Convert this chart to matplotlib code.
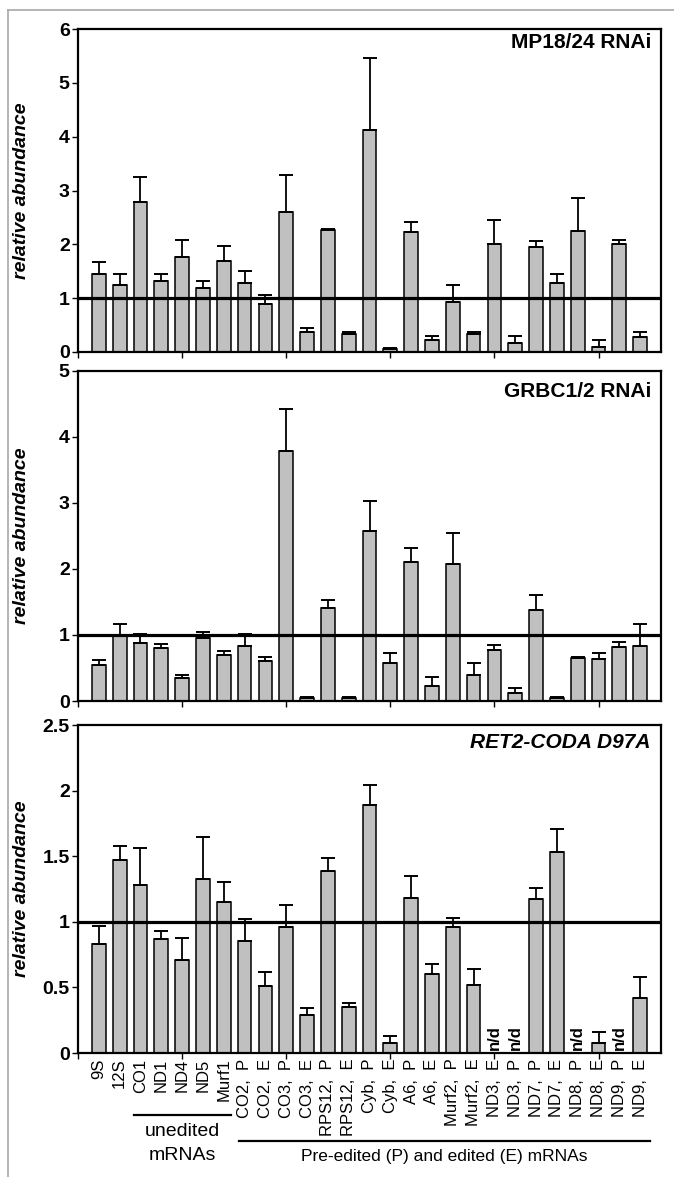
import numpy as np
import matplotlib
matplotlib.use('Agg')
import matplotlib.pyplot as plt
import matplotlib.transforms as mtransforms
from matplotlib.lines import Line2D
from matplotlib.ticker import FuncFormatter

plt.rcParams['font.family'] = ['Liberation Sans', 'DejaVu Sans']

# categories (bottom panel tick labels)
labels = ['9S', '12S', 'CO1', 'ND1', 'ND4', 'ND5', 'Murf1',
          'CO2,  P', 'CO2,  E', 'CO3,  P', 'CO3,  E', 'RPS12,  P', 'RPS12,  E',
          'Cyb,  P', 'Cyb,  E', 'A6,  P', 'A6,  E', 'Murf2,  P', 'Murf2,  E',
          'ND3,  E', 'ND3,  P', 'ND7,  P', 'ND7,  E', 'ND8,  P', 'ND8,  E',
          'ND9,  P', 'ND9,  E']

# MP18/24 RNAi
mp_vals = [1.44, 1.25, 2.78, 1.32, 1.77, 1.19, 1.69, 1.28, 0.89, 2.60, 0.38, 2.27, 0.34,
           4.12, 0.05, 2.22, 0.22, 0.92, 0.33, 2.01, 0.17, 1.95, 1.28, 2.24, 0.10, 2.01, 0.28]
mp_err = [0.23, 0.19, 0.47, 0.13, 0.31, 0.13, 0.28, 0.22, 0.17, 0.68, 0.06, 0.02, 0.04,
          1.34, 0.02, 0.20, 0.08, 0.33, 0.04, 0.45, 0.12, 0.12, 0.17, 0.62, 0.12, 0.07, 0.09]

# GRBC1/2 RNAi
gr_vals = [0.54, 1.00, 0.88, 0.81, 0.35, 0.95, 0.70, 0.84, 0.60, 3.79, 0.05, 1.41, 0.05,
           2.57, 0.57, 2.10, 0.22, 2.08, 0.40, 0.77, 0.12, 1.38, 0.05, 0.65, 0.64, 0.82, 0.84]
gr_err = [0.08, 0.16, 0.14, 0.06, 0.05, 0.10, 0.06, 0.17, 0.07, 0.64, 0.01, 0.12, 0.01,
          0.46, 0.15, 0.22, 0.15, 0.47, 0.17, 0.08, 0.07, 0.22, 0.01, 0.01, 0.09, 0.07, 0.32]

# RET2-CODA D97A (None = n/d)
ret_vals = [0.83, 1.47, 1.28, 0.87, 0.71, 1.33, 1.15, 0.85, 0.51, 0.96, 0.29, 1.39, 0.35,
            1.89, 0.08, 1.18, 0.60, 0.96, 0.52, None, None, 1.17, 1.53, None, 0.08, None, 0.42]
ret_err = [0.14, 0.11, 0.28, 0.06, 0.17, 0.32, 0.15, 0.17, 0.11, 0.17, 0.05, 0.10, 0.03,
           0.15, 0.05, 0.17, 0.08, 0.07, 0.12, None, None, 0.09, 0.18, None, 0.08, None, 0.16]

panels = [
    ('MP18/24 RNAi', 'normal', mp_vals, mp_err, 6, 1, 14),
    ('GRBC1/2 RNAi', 'normal', gr_vals, gr_err, 5, 1, 21),
    ('RET2-CODA D97A', 'italic', ret_vals, ret_err, 2.5, 0.5, 17),
]

W, H = 674, 1177
fig = plt.figure(figsize=(W / 100, H / 100), dpi=100)

# pixel boxes (top, bottom) of each panel
boxes = [(29, 352), (371, 701), (725, 1053)]
left, right = 78, 661

x = np.arange(1, len(labels) + 1)

for i, (title, ts, vals, errs, ymax, step, tdy) in enumerate(panels):
    top, bot = boxes[i]
    ax = fig.add_axes([left / W, 1 - bot / H, (right - left) / W, (bot - top) / H])
    v = np.array([np.nan if a is None else a for a in vals])
    e = np.array([np.nan if a is None else a for a in errs])

    ax.bar(x, v, width=0.66, color='#c0c0c0', edgecolor='black', linewidth=1.1, zorder=2)
    ok = ~np.isnan(v)
    ax.errorbar(x[ok], v[ok], yerr=[np.zeros(ok.sum()), e[ok]], fmt='none',
                ecolor='black', elinewidth=1.3, capsize=5, capthick=1.4, zorder=3)
    ax.axhline(1, color='black', linewidth=2.3, zorder=4)

    ax.set_xlim(0, 28)
    ax.set_ylim(0, ymax)
    ax.set_yticks(np.arange(0, ymax + step / 2, step))
    ax.yaxis.set_major_formatter(FuncFormatter(lambda val, pos: '%g' % val))
    for lab in ax.get_yticklabels():
        lab.set_fontweight('bold')
    ax.tick_params(axis='y', labelsize=14, length=4, width=1, direction='out', pad=2)
    ax.set_xticks(np.arange(0, 28, 5))
    ax.tick_params(axis='x', which='major', length=4, width=1, direction='out', labelbottom=False)
    for sp in ax.spines.values():
        sp.set_linewidth(1.6)

    ax.set_ylabel('relative abundance', fontsize=14, fontweight='bold', fontstyle='italic')
    ax.yaxis.set_label_coords((30 - left) / (right - left), 0.5)

    ax.text(1 - 10 / (right - left), 1 - tdy / (bot - top), title, transform=ax.transAxes,
            ha='right', va='center', fontsize=15, fontweight='bold', fontstyle=ts)

    if i == 2:
        ax.xaxis.remove_overlapping_locs = False
        ax.set_xticks(x, labels, minor=True)
        ax.tick_params(axis='x', which='minor', length=0, labelsize=12, pad=4,
                       labelrotation=90, labelbottom=True)
        for j in np.where(~ok)[0]:
            ax.text(x[j], 0.02, 'n/d', rotation=90, ha='center', va='bottom',
                    fontsize=12, fontweight='bold')

        trans = mtransforms.blended_transform_factory(ax.transData, ax.transAxes)
        hgt = bot - top
        ax.add_line(Line2D([2.7, 7.35], [-(1115 - bot) / hgt] * 2, transform=trans,
                           color='black', linewidth=1.6, clip_on=False))
        ax.add_line(Line2D([7.75, 27.45], [-(1141 - bot) / hgt] * 2, transform=trans,
                           color='black', linewidth=1.6, clip_on=False))
        ax.text(5.0, -(1132 - bot) / hgt, 'unedited', transform=trans, ha='center',
                va='center', fontsize=14)
        ax.text(5.0, -(1155 - bot) / hgt, 'mRNAs', transform=trans, ha='center',
                va='center', fontsize=14)
        ax.text(17.6, -(1157 - bot) / hgt, 'Pre-edited (P) and edited (E) mRNAs',
                transform=trans, ha='center', va='center', fontsize=12.5)

# light grey outer frame (only top and left edges fall inside the image)
fig.add_artist(Line2D([8 / W, 1], [1 - 10 / H] * 2, transform=fig.transFigure,
                      color='#a8a8a8', linewidth=1.2))
fig.add_artist(Line2D([8 / W] * 2, [0, 1 - 10 / H], transform=fig.transFigure,
                      color='#a8a8a8', linewidth=1.2))

fig.savefig('out.png', dpi=100)
